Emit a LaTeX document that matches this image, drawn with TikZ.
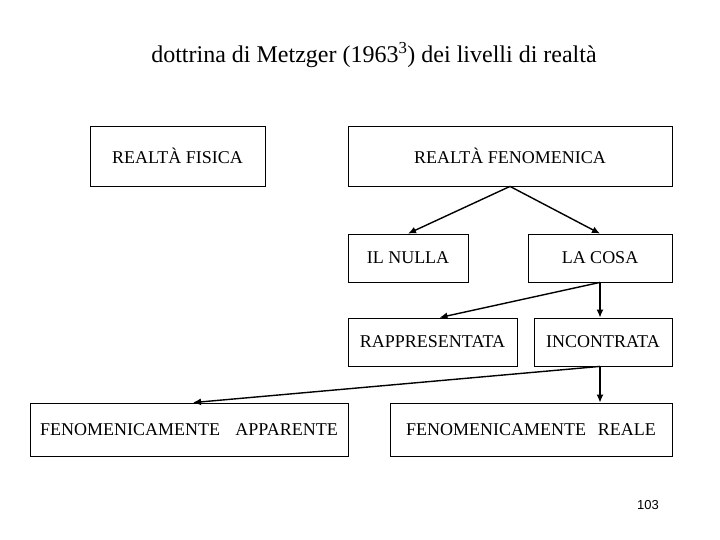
\documentclass[tikz,border=0pt]{standalone}
\usepackage{fontspec}
\setmainfont{Liberation Serif}
\newfontfamily\numfont{Liberation Sans}
\usepackage{tikz}
\usetikzlibrary{positioning,arrows.meta,calc}

\begin{document}
\begin{tikzpicture}[
  x=1pt, y=-1pt,
  font=\rmfamily\fontsize{18}{21}\selectfont,
  >={Latex[length=8pt,width=7pt]},
  levelbox/.style={
    rectangle, draw=black, fill=white, line width=0.8pt,
    inner sep=0pt, align=center
  },
  bigbox/.style={levelbox, minimum height=60pt},
  smallbox/.style={levelbox, minimum height=48pt},
  wordbox/.style={levelbox, minimum height=53pt},
  link/.style={->, line width=1.4pt}
]
  \useasboundingbox[fill=white] (0,0) rectangle (720,540);

  % Titolo
  \node[font=\rmfamily\fontsize{24}{28}\selectfont] (titolo) at (374,55)
    {dottrina di Metzger (1963\textsuperscript{3}) dei livelli di realtà};

  % Primo livello
  \node[bigbox, minimum width=175pt] (fisica) at (177.5,156) {REALTÀ FISICA};
  \node[bigbox, minimum width=324pt] (fenomenica) at (510,156) {REALTÀ FENOMENICA};

  % Secondo livello
  \node[smallbox, minimum width=120pt] (nulla) at (408,258) {IL NULLA};
  \node[smallbox, minimum width=144pt] (cosa) at (600,258) {LA COSA};

  % Terzo livello
  \node[smallbox, minimum width=169pt] (rappresentata) at (432.5,342) {RAPPRESENTATA};
  \node[smallbox, minimum width=138pt] (incontrata) at (603,342) {INCONTRATA};

  % Quarto livello
  \node[wordbox, minimum width=318pt] (apparente) at (189,429.5)
    {FENOMENICAMENTE\hspace{0.6em} APPARENTE};
  \node[wordbox, minimum width=282pt] (reale) at (531,429.5)
    {FENOMENICAMENTE\hspace{0.4em} REALE};

  % Numero di pagina
  \node[font=\numfont\fontsize{13}{15}\selectfont] (pagina) at (648,505) {103};

  % Collegamenti
  \draw[link] (fenomenica.south) -- (nulla.north);
  \draw[link] (fenomenica.south) -- (cosa.north);
  \draw[link] (cosa.south) -- ($(rappresentata.north)+(7,0)$);
  \draw[link] (cosa.south) -- (cosa.south |- incontrata.north);
  \draw[link] (incontrata.south -| cosa.south) -- ($(apparente.north)+(4,0)$);
  \draw[link] (incontrata.south -| cosa.south) -- (cosa.south |- reale.north);

\end{tikzpicture}
\end{document}
